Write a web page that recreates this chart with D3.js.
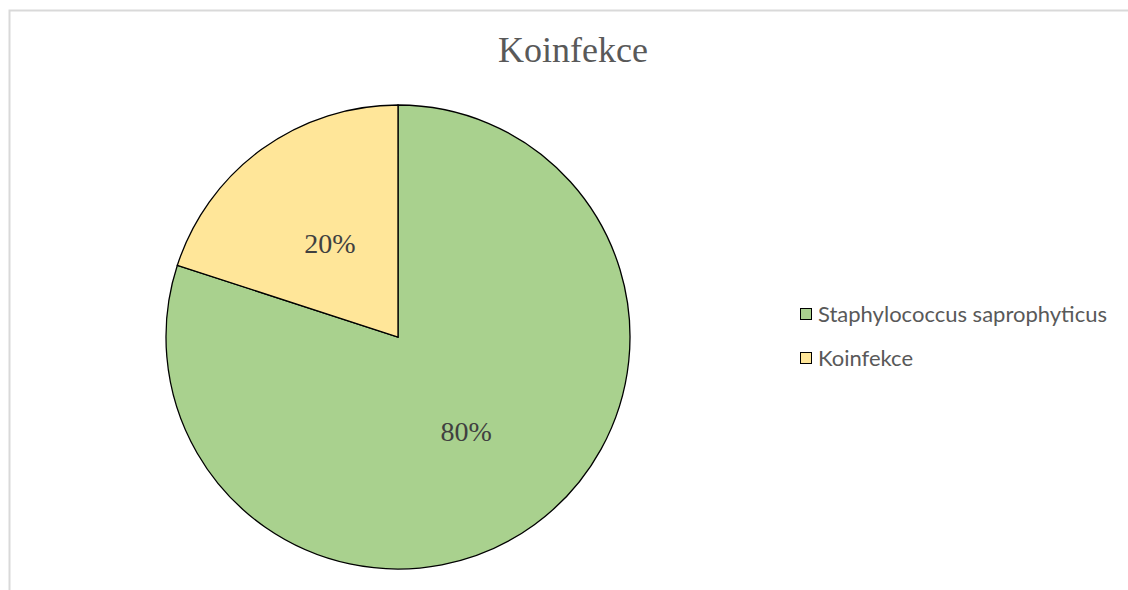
<!DOCTYPE html>
<html><head><meta charset="utf-8">
<script src="https://cdn.jsdelivr.net/npm/d3@7"></script>
</head><body style="margin:0">
<svg id="c" width="1128" height="590"></svg>
<script>
const categories = ["Staphylococcus saprophyticus", "Koinfekce"];
const values = [80, 20];
const labels = ["80%", "20%"];
const colors = ["#a9d18e", "#ffe699"];
const title = "Koinfekce";

const svg = d3.select("#c");
svg.append("rect").attr("x", 9.5).attr("y", 10.5).attr("width", 1130).attr("height", 600)
  .attr("fill", "#fff").attr("stroke", "#d9d9d9").attr("stroke-width", 2);

svg.append("text").attr("x", 573).attr("y", 62).attr("text-anchor", "middle")
  .style("font-family", "'Liberation Serif'").attr("font-size", 36).attr("fill", "#595959").text(title);

const cx = 398, cy = 337, r = 232;
const pie = d3.pie().sort(null).value(d => d)(values);
const arc = d3.arc().innerRadius(0).outerRadius(r);
const labelArc = d3.arc().innerRadius(r * 0.5).outerRadius(r * 0.5);
const g = svg.append("g").attr("transform", `translate(${cx},${cy})`);
g.selectAll("path").data(pie).join("path").attr("d", arc)
  .attr("fill", (d, i) => colors[i]).attr("stroke", "#000").attr("stroke-width", 1.3);
g.selectAll("text").data(pie).join("text")
  .attr("transform", d => `translate(${labelArc.centroid(d)})`)
  .attr("text-anchor", "middle").attr("dy", "0.35em")
  .style("font-family", "'Liberation Serif'").attr("font-size", 28).attr("fill", "#404040").text((d, i) => labels[i]);

const lg = svg.append("g");
categories.forEach((c, i) => {
  const y = 314 + i * 44;
  lg.append("rect").attr("x", 800.5).attr("y", y - 5.5).attr("width", 11).attr("height", 11)
    .attr("fill", colors[i]).attr("stroke", "#000").attr("stroke-width", 1);
  lg.append("text").attr("x", 818).attr("y", y).attr("dy", "0.35em")
    .style("font-family", "Lato").attr("font-size", 22)
    .attr("fill", "#595959").text(c);
});
</script>
</body></html>
